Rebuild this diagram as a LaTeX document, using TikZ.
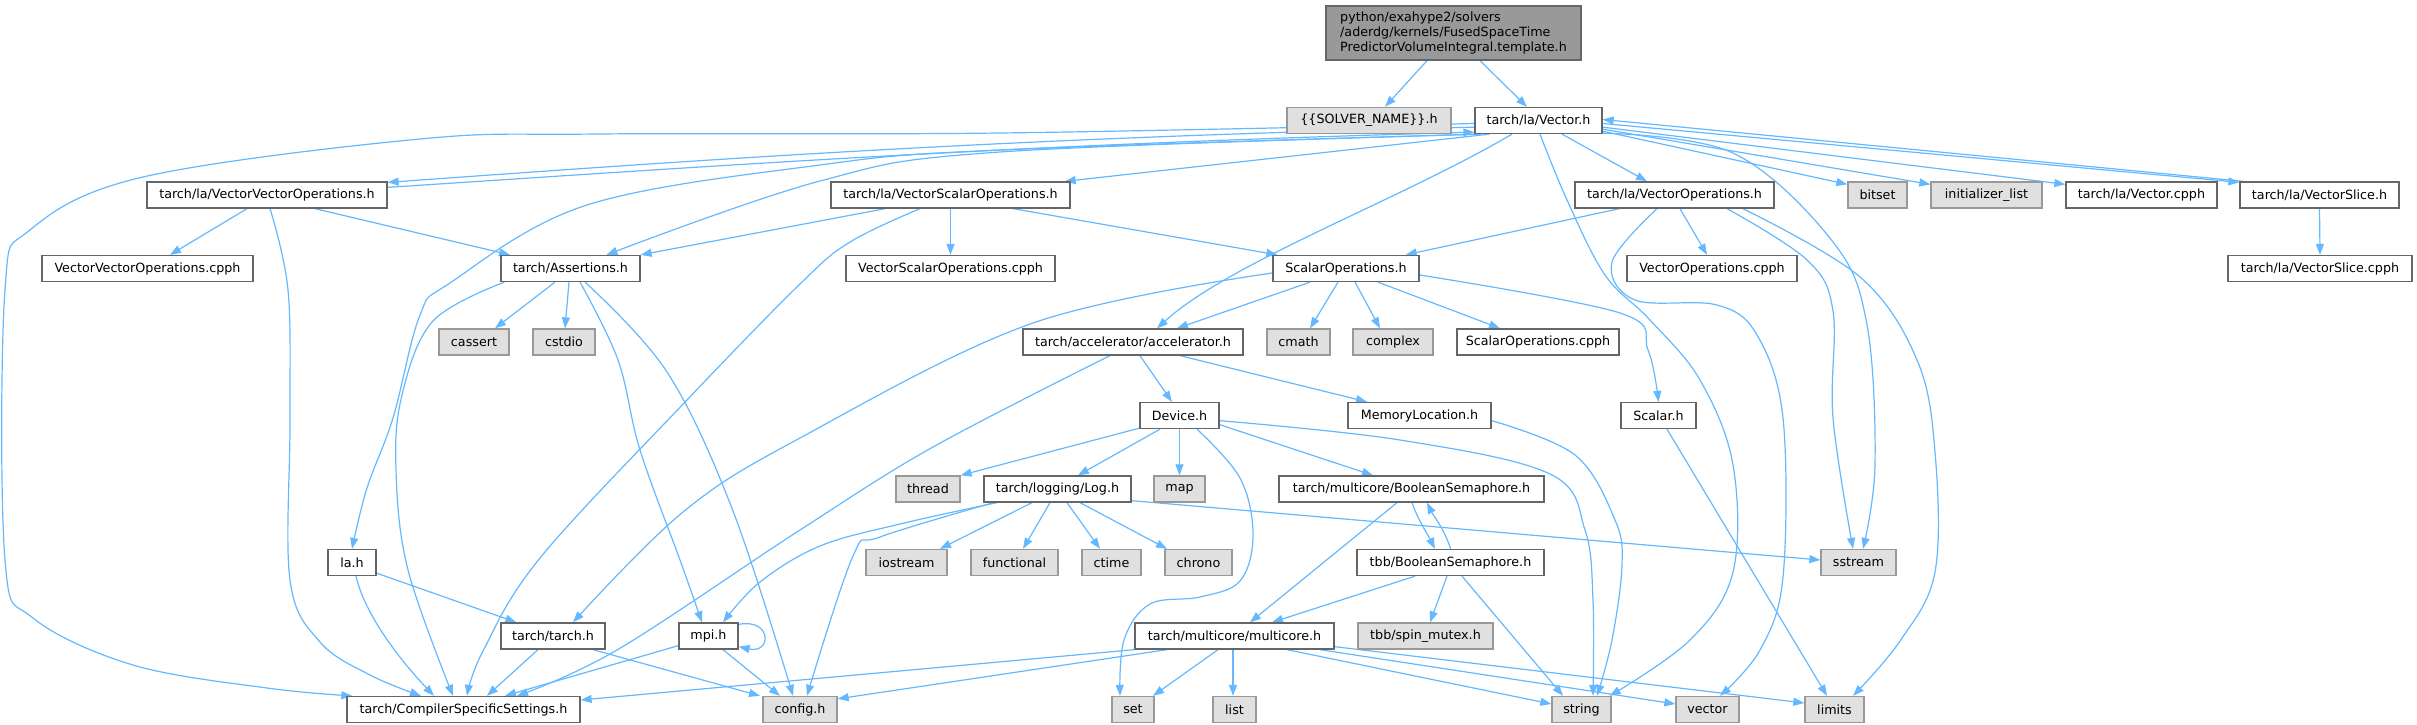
\documentclass[tikz,border=0pt]{standalone}
\usepackage{fontspec}
\setmainfont{DejaVu Sans}
\usetikzlibrary{arrows.meta}
\definecolor{edgec}{HTML}{63B8FF}
\definecolor{bord}{HTML}{666666}
\definecolor{gbord}{HTML}{999999}
\definecolor{gfill}{HTML}{E0E0E0}
\definecolor{topfill}{HTML}{999999}
\pgfdeclarelayer{bg}
\pgfsetlayers{bg,main}
\begin{document}
\begin{tikzpicture}[x=1pt,y=-1pt,
 nb/.style={draw=bord, line width=1.3pt, fill=white, minimum height=26pt, inner sep=0pt, font=\fontsize{12.7}{15}\selectfont},
 gb/.style={nb, draw=gbord, fill=gfill},
 e/.style={draw=edgec, line width=1.2pt, -{Triangle[length=11pt,width=8pt]}},
 sm/.style={smooth, tension=.6}
]
\useasboundingbox (0,0) rectangle (2417,725);

% nodes
\node[nb, fill=topfill, minimum width=255pt, minimum height=54pt, align=left] (top) at (1453.5,33) {python/exahype2/solvers\\/aderdg/kernels/FusedSpaceTime\\PredictorVolumeIntegral.template.h};
% rank 1
\node[gb, minimum width=164pt] (solver) at (1369,120.5) {\{\{SOLVER\_NAME\}\}.h};
\node[nb, minimum width=127pt] (vec) at (1538.5,120.5) {tarch/la/Vector.h};
% rank 2
\node[nb, minimum width=240pt] (vvoh) at (267,195) {tarch/la/VectorVectorOperations.h};
\node[nb, minimum width=239pt] (vsoh) at (950.5,195) {tarch/la/VectorScalarOperations.h};
\node[nb, minimum width=199pt] (voh) at (1674.5,195) {tarch/la/VectorOperations.h};
\node[gb, minimum width=59pt] (bitset) at (1877.5,195) {bitset};
\node[gb, minimum width=111pt] (initl) at (1986.5,195) {initializer\_list};
\node[nb, minimum width=151pt] (veccpph) at (2141.5,195) {tarch/la/Vector.cpph};
\node[nb, minimum width=159pt] (vslh) at (2319.5,195) {tarch/la/VectorSlice.h};
% rank 3
\node[nb, minimum width=211pt] (vvocpph) at (147.5,268.5) {VectorVectorOperations.cpph};
\node[nb, minimum width=139pt] (assert) at (570.5,268.5) {tarch/Assertions.h};
\node[nb, minimum width=209pt] (vsocpph) at (950.5,268.5) {VectorScalarOperations.cpph};
\node[nb, minimum width=146pt] (soh) at (1346,268.5) {ScalarOperations.h};
\node[nb, minimum width=170pt] (vocpph) at (1712,268.5) {VectorOperations.cpph};
\node[nb, minimum width=184pt] (vslcpph) at (2320,268.5) {tarch/la/VectorSlice.cpph};
% rank 4
\node[gb, minimum width=70pt] (cassert) at (474,342) {cassert};
\node[gb, minimum width=62pt] (cstdio) at (564,342) {cstdio};
\node[nb, minimum width=220pt] (accel) at (1133,342) {tarch/accelerator/accelerator.h};
\node[gb, minimum width=63pt] (cmath) at (1298.5,342) {cmath};
\node[gb, minimum width=80pt] (complex) at (1393,342) {complex};
\node[nb, minimum width=162pt] (socpph) at (1538,342) {ScalarOperations.cpph};
% rank 5
\node[nb, minimum width=79pt] (device) at (1179.5,415.5) {Device.h};
\node[nb, minimum width=143pt] (memloc) at (1419.5,415.5) {MemoryLocation.h};
\node[nb, minimum width=75pt] (scalar) at (1658.5,415.5) {Scalar.h};
% rank 6
\node[gb, minimum width=64pt] (thread) at (928,489) {thread};
\node[nb, minimum width=147pt] (log) at (1057.5,489) {tarch/logging/Log.h};
\node[gb, minimum width=51pt] (map) at (1179.5,489) {map};
\node[nb, minimum width=265pt] (mcbs) at (1411.5,489) {tarch/multicore/BooleanSemaphore.h};
% rank 7
\node[nb, minimum width=48pt] (lah) at (352,562.5) {la.h};
\node[gb, minimum width=81pt] (iostream) at (906.5,562.5) {iostream};
\node[gb, minimum width=87pt] (functional) at (1014.5,562.5) {functional};
\node[gb, minimum width=59pt] (ctime) at (1111.5,562.5) {ctime};
\node[gb, minimum width=67pt] (chrono) at (1198.5,562.5) {chrono};
\node[nb, minimum width=187pt] (tbbbs) at (1450.5,562.5) {tbb/BooleanSemaphore.h};
\node[gb, minimum width=75pt] (sstream) at (1858.5,562.5) {sstream};
% rank 8
\node[nb, minimum width=104pt] (tarchh) at (553,636) {tarch/tarch.h};
\node[nb, minimum width=59pt] (mpih) at (708.5,636) {mpi.h};
\node[nb, minimum width=199pt] (multicore) at (1234.5,636) {tarch/multicore/multicore.h};
\node[gb, minimum width=135pt] (spinmutex) at (1425.5,636) {tbb/spin\_mutex.h};
% rank 9
\node[nb, minimum width=233pt] (css) at (463.5,709.5) {tarch/CompilerSpecificSettings.h};
\node[gb, minimum width=74pt] (config) at (800,709.5) {config.h};
\node[gb, minimum width=42pt] (set) at (1133,709.5) {set};
\node[gb, minimum width=43pt] (list) at (1234.5,709.5) {list};
\node[gb, minimum width=59pt] (string) at (1581.5,709.5) {string};
\node[gb, minimum width=63pt] (vector) at (1707.5,709.5) {vector};
\node[gb, minimum width=59pt] (limits) at (1834.5,709.5) {limits};

\begin{pgfonlayer}{bg}
% top
\draw[e] ([xshift=-26.5pt]top.south) -- ([xshift=16pt]solver.north);
\draw[e] ([xshift=26.5pt]top.south) -- ([xshift=-11.5pt]vec.north);
% Vector.h
\draw[e] ([yshift=7pt]vec.south west) .. controls (1000,138) and (700,160) .. ([yshift=-1pt]vvoh.north east);
\draw[e] ([yshift=-6pt]vvoh.north east) .. controls (700,167) and (1000,145) .. ([yshift=2pt]vec.south west);
\draw[e] plot[sm] coordinates {([xshift=7pt]vec.south west) (1000,152) (820,181) ([xshift=36pt]assert.north)};
\draw[e] plot[sm] coordinates {([xshift=3pt]vec.south west) (1000,150) (820,165) (587,205) (450,283) (420,315) (393,418) (367,488) (lah.north)};
\draw[e] plot[sm] coordinates {([yshift=-3pt]vec.west) (1000,133) (600,134) (420,139) (143,177) (30,230) (5,290) (5,560) (33,618) (133,665) (267,688) ([xshift=6pt]css.north west)};
\draw[e] ([xshift=15pt]vec.south west) -- ([xshift=-6pt]vsoh.north east);
\draw[e] ([xshift=23.5pt]vec.south) -- ([xshift=-27.5pt]voh.north);
\draw[e] ([xshift=-26.5pt]vec.south) .. controls (1400,200) and (1230,262) .. ([xshift=24pt]accel.north);
\draw[e] plot[sm] coordinates {([xshift=1.5pt]vec.south) (1567,200) (1605,275) (1650,320) (1700,380) (1733,465) (1733,572) (1690,640) ([xshift=-2pt]string.north east)};
\draw[e] ([yshift=3pt]vec.south east) -- ([yshift=-3pt]bitset.north west);
\draw[e] ([yshift=5pt]vec.south east) -- ([yshift=-3pt]initl.north west);
\draw[e] ([yshift=7pt]vec.south east) -- ([yshift=-3pt]veccpph.north west);
\draw[e] ([yshift=-3pt]vec.east) -- ([yshift=-1pt]vslh.north west);
\draw[e] ([xshift=4pt]vslh.north west) -- ([yshift=1pt]vec.east);
\draw[e] plot[sm] coordinates {([yshift=1pt]vec.south east) (1733,153) (1833,242) (1867,325) (1875,465) ([xshift=4.5pt]sstream.north)};
% VectorOperations.h
\draw[e] ([xshift=45pt]voh.south west) -- ([xshift=-14pt]soh.north east);
\draw[e] ([xshift=5.5pt]voh.south) -- ([xshift=-5pt]vocpph.north);
\draw[e] plot[sm] coordinates {([xshift=-17.5pt]voh.south) (1612,262) (1635,300) (1717,305) (1757,335) (1783,418) (1783,577) (1760,650) ([xshift=12.5pt]vector.north)};
\draw[e] plot[sm] coordinates {([xshift=52.5pt]voh.south) (1807,260) (1833,311) (1833,418) ([xshift=-5.5pt]sstream.north)};
\draw[e] plot[sm] coordinates {([xshift=68.5pt]voh.south) (1860,277) (1917,360) (1935,452) (1935,572) (1900,641) ([xshift=18.5pt]limits.north)};
% VectorSlice
\draw[e] (vslh.south) -- (vslcpph.north);
% VectorVectorOperations.h
\draw[e] ([xshift=-20pt]vvoh.south) -- ([xshift=22.5pt]vvocpph.north);
\draw[e] ([xshift=48pt]vvoh.south) -- ([xshift=-60.5pt]assert.north);
\draw[e] plot[sm] coordinates {([xshift=3pt]vvoh.south) (288,290) (290,420) (290,580) (320,642) (370,675) ([xshift=-42.5pt]css.north)};
% VectorScalarOperations.h
\draw[e] (vsoh.south) -- (vsocpph.north);
\draw[e] ([xshift=55pt]vsoh.south west) -- (assert.north east);
\draw[e] ([xshift=62.5pt]vsoh.south) -- ([xshift=5pt]soh.north west);
\draw[e] plot[sm] coordinates {([xshift=-30.5pt]vsoh.south) (850,242) (800,284) (687,400) (540,558) (483,651) ([xshift=3.5pt]css.north)};
% Assertions.h
\draw[e] ([xshift=-15.5pt]assert.south) -- ([xshift=21pt]cassert.north);
\draw[e] ([xshift=-1.5pt]assert.south) -- ([xshift=1pt]cstdio.north);
\draw[e] plot[sm] coordinates {([xshift=4pt]assert.south west) (433,321) (402,395) (396,470) (408,570) ([xshift=-10.5pt]css.north)};
\draw[e] plot[sm] coordinates {([xshift=9.5pt]assert.south) (618,360) (640,450) (680,560) ([xshift=-6.5pt]mpih.north)};
\draw[e] plot[sm] coordinates {([xshift=14.5pt]assert.south) (667,372) (733,511) ([xshift=-7pt]config.north)};
% la.h
\draw[e] ([yshift=3pt]lah.south east) -- ([xshift=16pt]tarchh.north west);
\draw[e] ([xshift=4pt]lah.south) .. controls (365,615) and (400,660) .. ([xshift=-29.5pt]css.north);
% tarch.h
\draw[e] ([xshift=-15pt]tarchh.south) -- ([xshift=23.5pt]css.north);
\draw[e] ([xshift=40pt]tarchh.south) -- ([xshift=-40pt]config.north);
% mpi.h
\draw[e] ([yshift=4pt]mpih.south west) -- ([xshift=41.5pt]css.north);
\draw[e] ([xshift=14.5pt]mpih.south) -- ([xshift=-20pt]config.north);
\draw[e] ([yshift=-2pt]mpih.north east) .. controls (772,618) and (772,654) .. ([yshift=3pt]mpih.south east);
% Log.h
\draw[e] plot[sm] coordinates {([xshift=-60.5pt]log.south) (900,524) (820,546) (760,582) ([xshift=14.5pt]mpih.north)};
\draw[e] plot[sm] coordinates {([xshift=-64pt]log.south) (880,537) (853,556) ([xshift=7pt]config.north)};
\draw[e] ([xshift=-25.5pt]log.south) -- ([xshift=33.5pt]iostream.north);
\draw[e] ([xshift=-7.5pt]log.south) -- ([xshift=8.5pt]functional.north);
\draw[e] ([xshift=9.5pt]log.south) -- ([xshift=-11.5pt]ctime.north);
\draw[e] ([xshift=22.5pt]log.south) -- ([xshift=-31.5pt]chrono.north);
\draw[e] ([yshift=2pt]log.south east) -- ([yshift=2.5pt]sstream.west);
% Device.h
\draw[e] ([yshift=1pt]device.south west) -- (thread.north east);
\draw[e] ([xshift=-19.5pt]device.south) -- ([xshift=20.5pt]log.north);
\draw[e] (device.south) -- (map.north);
\draw[e] plot[sm] coordinates {([xshift=17.5pt]device.south) (1240,478) (1253,535) (1240,581) (1200,597) (1150,604) (1124,640) ([xshift=-13pt]set.north)};
\draw[e] ([yshift=4.5pt]device.south east) -- ([xshift=-38.5pt]mcbs.north);
\draw[e] plot[sm] coordinates {([yshift=8.5pt]device.south east) (1400,440) (1550,474) (1585,530) (1593,600) ([xshift=11.5pt]string.north)};
% accelerator.h
\draw[e] ([xshift=7pt]accel.south) -- ([xshift=-7.5pt]device.north);
\draw[e] ([xshift=47pt]accel.south) -- ([xshift=-52.5pt]memloc.north);
\draw[e] plot[sm] coordinates {([xshift=-23pt]accel.south) (933,447) (800,530) (617,650) ([xshift=53.5pt]css.north)};
% ScalarOperations.h
\draw[e] ([xshift=-36pt]soh.south) -- ([xshift=44pt]accel.north);
\draw[e] ([xshift=-8pt]soh.south) -- ([xshift=11.5pt]cmath.north);
\draw[e] ([xshift=9pt]soh.south) -- ([xshift=-13pt]complex.north);
\draw[e] ([xshift=32pt]soh.south) -- ([xshift=-38pt]socpph.north);
\draw[e] plot[sm] coordinates {([yshift=-6.5pt]soh.east) (1620,313) (1648,350) (scalar.north)};
\draw[e] plot[sm] coordinates {([yshift=-4.5pt]soh.west) (1033,323) (800,438) (683,512) ([xshift=20pt]tarchh.north)};
% MemoryLocation.h
\draw[e] plot[sm] coordinates {([yshift=8.5pt]memloc.south east) (1575,455) (1615,520) (1622,565) (1612,640) ([xshift=15.5pt]string.north)};
% Scalar.h
\draw[e] ([xshift=8.5pt]scalar.south) -- ([xshift=-7.5pt]limits.north);
% BooleanSemaphores
\draw[e] ([xshift=-14.5pt]mcbs.south) -- ([xshift=15.5pt]multicore.north);
\draw[e] ([xshift=0.5pt]mcbs.south) .. controls (1418,520) and (1428,535) .. ([xshift=-15.5pt]tbbbs.north);
\draw[e] (tbbbs.north) .. controls (1445,530) and (1433,515) .. ([xshift=15.5pt]mcbs.south);
\draw[e] ([xshift=-35.5pt]tbbbs.south) -- ([xshift=37.5pt]multicore.north);
\draw[e] ([xshift=-3.5pt]tbbbs.south) -- ([xshift=4.5pt]spinmutex.north);
\draw[e] ([xshift=11.5pt]tbbbs.south) -- ([xshift=-18.5pt]string.north);
% multicore.h
\draw[e] (multicore.south west) -- ([yshift=9.5pt]css.east);
\draw[e] ([xshift=-67.5pt]multicore.south) -- ([yshift=-3pt]config.north east);
\draw[e] ([xshift=-16.5pt]multicore.south) -- ([xshift=20pt]set.north);
\draw[e] ([xshift=-1.5pt]multicore.south) -- ([xshift=-1.5pt]list.north);
\draw[e] ([xshift=52.5pt]multicore.south) -- ([yshift=5.5pt]string.west);
\draw[e] ([xshift=85.5pt]multicore.south) -- ([yshift=5.5pt]vector.west);
\draw[e] ([yshift=3pt]multicore.south east) -- ([yshift=6.5pt]limits.west);
\end{pgfonlayer}
\end{tikzpicture}
\end{document}
